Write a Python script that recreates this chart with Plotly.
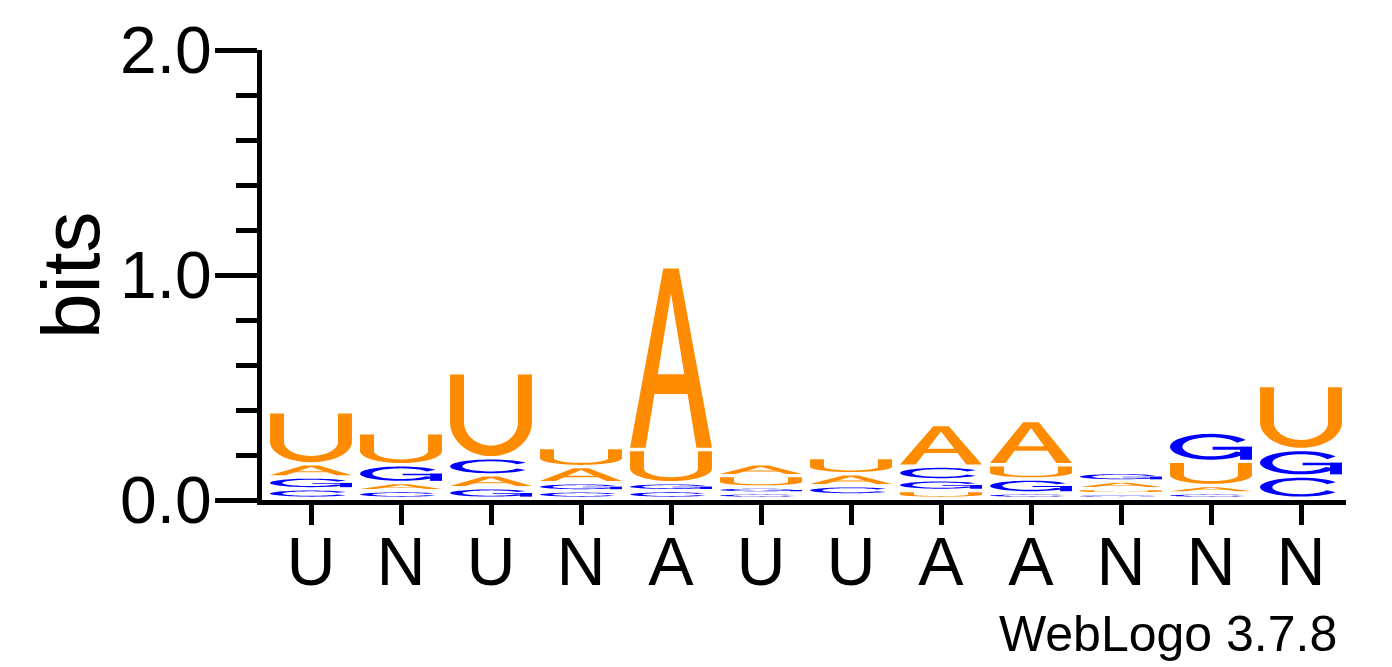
import numpy as np
import plotly.graph_objects as go

# ---------------- data ----------------
positions = list(range(1, 13))
consensus = ['U', 'N', 'U', 'N', 'A', 'U', 'U', 'A', 'A', 'N', 'N', 'N']
letters = ['A', 'C', 'G', 'U']
height_A = [0.058, 0.036, 0.057, 0.072, 0.812, 0.052, 0.053, 0.185, 0.197, 0.034, 0.033, 0.000]
height_C = [0.042, 0.034, 0.076, 0.033, 0.034, 0.024, 0.041, 0.061, 0.024, 0.020, 0.024, 0.099]
height_G = [0.053, 0.079, 0.047, 0.036, 0.035, 0.026, 0.015, 0.047, 0.062, 0.038, 0.130, 0.118]
height_U = [0.231, 0.142, 0.378, 0.085, 0.148, 0.051, 0.072, 0.035, 0.063, 0.023, 0.107, 0.284]
y_tick_values = [0, 1, 2]
y_tick_labels = ['0.0', '1.0', '2.0']
y_title = 'bits'
credit = 'WebLogo 3.7.8'

heights = {'A': height_A, 'C': height_C, 'G': height_G, 'U': height_U}
colors = {'A': '#FF8C00', 'C': '#0000FF', 'G': '#0000FF', 'U': '#FF8C00'}
FONT = 'Liberation Sans, Arial, Helvetica, sans-serif'
GAP = 0.015      # vertical padding below each glyph (bits)
HALF_W = 0.455   # half width of a glyph (x units)


# ---------------- glyph outlines in a unit box ----------------
def arc(cx, cy, rx, ry, t0, t1, n=48):
    t = np.radians(np.linspace(t0, t1, n))
    return list(zip(cx + rx * np.cos(t), cy + ry * np.sin(t)))


def rect(x0, y0, x1, y1):
    return [(x0, y0), (x1, y0), (x1, y1), (x0, y1)]


def glyph_U():
    sw, tb, yc = 0.17, 0.13, 0.42
    outer = arc(0.5, yc, 0.5, yc, 180, 360)
    inner = arc(0.5, yc, 0.5 - sw, yc - tb, 360, 180)
    return [[(0, 1)] + outer + [(1, 1), (1 - sw, 1)] + inner + [(sw, 1)]]


def glyph_A():
    legs = [(0, 0), (0.405, 1), (0.595, 1), (1, 0), (0.81, 0), (0.5, 0.86), (0.19, 0)]
    bar = rect(0.22, 0.30, 0.78, 0.41)
    return [legs, bar]


def glyph_C():
    outer = arc(0.5, 0.5, 0.5, 0.5, 32, 328)
    inner = arc(0.5, 0.5, 0.35, 0.37, 335, 25)
    return [outer + inner]


def glyph_G():
    band = arc(0.5, 0.5, 0.5, 0.5, 32, 330) + arc(0.5, 0.5, 0.35, 0.37, 330, 25)
    stem = rect(0.855, 0.0, 1.0, 0.5)
    bar = rect(0.52, 0.39, 1.0, 0.5)
    return [band, stem, bar]


GLYPHS = {'A': glyph_A(), 'C': glyph_C(), 'G': glyph_G(), 'U': glyph_U()}


def polygon_path(poly, x0, x1, y0, y1):
    pts = [(x0 + u * (x1 - x0), y0 + v * (y1 - y0)) for u, v in poly]
    return 'M ' + ' L '.join(f'{x:.5f},{y:.5f}' for x, y in pts) + ' Z'


shapes = []
for i, pos in enumerate(positions):
    stack = sorted([(heights[l][i], l) for l in letters if heights[l][i] > 0])
    base = 0.0
    for h, l in stack:
        g0, g1 = base + GAP, base + h
        if g1 - g0 > 0.002:
            for poly in GLYPHS[l]:
                shapes.append(dict(
                    type='path', xref='x', yref='y',
                    path=polygon_path(poly, pos - HALF_W, pos + HALF_W, g0, g1),
                    fillcolor=colors[l], line=dict(width=0), layer='above'))
        base += h

fig = go.Figure()
# invisible trace so the axes exist
fig.add_trace(go.Scatter(x=positions, y=[0] * len(positions), mode='markers',
                         marker=dict(opacity=0), hoverinfo='skip', showlegend=False))

fig.update_layout(
    width=1392, height=667,
    margin=dict(l=262, r=46, t=50, b=167),
    paper_bgcolor='white', plot_bgcolor='white',
    shapes=shapes,
    showlegend=False,
    font=dict(family=FONT, color='black'),
    xaxis=dict(
        range=[0.5 - 4 / 90, 12.5],
        tickmode='array', tickvals=positions, ticktext=consensus,
        ticks='outside', ticklen=20, tickwidth=5, tickcolor='black',
        ticklabelstandoff=-22,
        showline=True, linewidth=5, linecolor='black',
        showgrid=False, zeroline=False, fixedrange=True,
        tickfont=dict(size=68, family=FONT, color='black'),
    ),
    yaxis=dict(
        range=[0, 2],
        tickmode='array', tickvals=y_tick_values, ticktext=y_tick_labels,
        ticks='outside', ticklen=42, tickwidth=5, tickcolor='black',
        ticklabelstandoff=-10,
        minor=dict(tickmode='linear', tick0=0, dtick=0.2, ticks='outside',
                   ticklen=21, tickwidth=5, tickcolor='black', showgrid=False),
        showline=True, linewidth=5, linecolor='black',
        showgrid=False, zeroline=False, fixedrange=True,
        tickfont=dict(size=66, family=FONT, color='black'),
    ),
    annotations=[
        dict(text=y_title, xref='paper', yref='paper', x=0, y=0.5,
             xanchor='center', yanchor='middle', xshift=-192, textangle=-90,
             showarrow=False, font=dict(size=82, family=FONT, color='black')),
        dict(text=credit, xref='paper', yref='paper', x=1, y=0,
             xanchor='right', yanchor='top', xshift=-7, yshift=-104,
             showarrow=False, font=dict(size=50, family=FONT, color='black')),
    ],
)

fig.write_html('out.html')
